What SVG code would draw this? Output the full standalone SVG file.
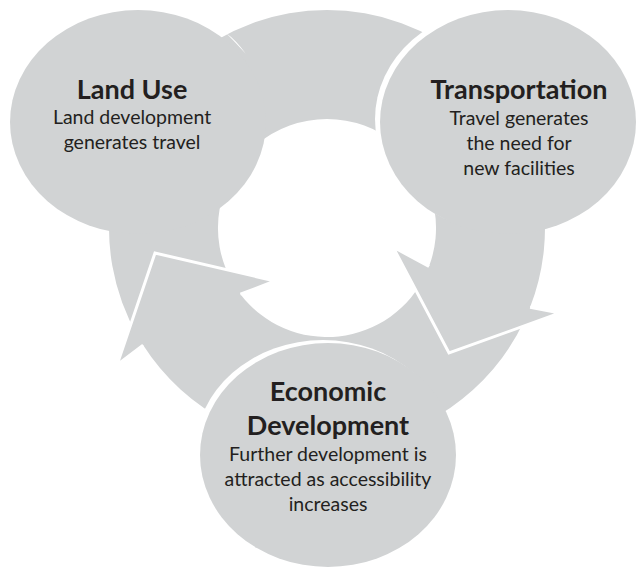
<svg xmlns="http://www.w3.org/2000/svg" width="636" height="570" viewBox="0 0 636 570">
<style>
.shape{fill:#D1D3D4}
.gap{fill:#FFFFFF}
.headline{fill:none;stroke:#FFFFFF;stroke-width:3;stroke-linejoin:miter}
.t{font-family:Lato,"Liberation Sans",sans-serif;fill:#231F20;text-anchor:middle}
.title{font-weight:bold;font-size:27px}
.body{font-size:19.5px}
</style>
<rect width="636" height="570" fill="#FFFFFF"/>
<g id="connectors">
  <path id="arrow-landuse-transport" class="shape" d="M138.2,337 A218,218 0 0 1 467.1,61 L397.1,144.5 A109,109 0 0 0 232.6,282.5 Z"/>
  <g id="arrow-economic-landuse">
    <path class="shape" d="M524.6,320.1 A218,218 0 0 1 143.1,345.1 L117,365 L155,253 L275,281 L240.4,294.2 A109,109 0 0 0 425.8,274.1 Z"/>
    <polyline class="headline" points="143.1,345.1 117,365 155,253 275,281 240.4,294.2"/>
  </g>
  <g id="arrow-transport-economic">
    <path class="shape" d="M494,87.9 A218,218 0 0 1 530.1,307.2 L560,313 L449,353 L393,247 L429,266.5 A109,109 0 0 0 410.5,157.9 Z"/>
    <polyline class="headline" points="530.1,307.2 560,313 449,353 393,247 429,266.5"/>
  </g>
</g>
<g id="node-land-use">
  <ellipse class="shape" cx="138" cy="122" rx="128" ry="112"/>
  <path class="gap" d="M226,33 Q236,40 246,54 Q235,42 226,33 Z"/>
  <text class="t title" x="132" y="99">Land Use</text>
  <text class="t body" x="132" y="124">Land development</text>
  <text class="t body" x="132" y="149">generates travel</text>
</g>
<g id="node-transportation">
  <ellipse class="gap" cx="503" cy="119" rx="128" ry="112"/>
  <ellipse class="shape" cx="508" cy="122" rx="128" ry="112"/>
  <text class="t title" x="519" y="99">Transportation</text>
  <text class="t body" x="519" y="125">Travel generates</text>
  <text class="t body" x="519" y="150">the need for</text>
  <text class="t body" x="519" y="175">new facilities</text>
</g>
<g id="node-economic-development">
  <ellipse class="gap" cx="323" cy="452" rx="128" ry="112"/>
  <ellipse class="shape" cx="328" cy="455" rx="128" ry="112"/>
  <text class="t title" x="328" y="401">Economic</text>
  <text class="t title" x="328" y="435">Development</text>
  <text class="t body" x="328" y="461">Further development is</text>
  <text class="t body" x="328" y="486">attracted as accessibility</text>
  <text class="t body" x="328" y="511">increases</text>
</g>
</svg>
